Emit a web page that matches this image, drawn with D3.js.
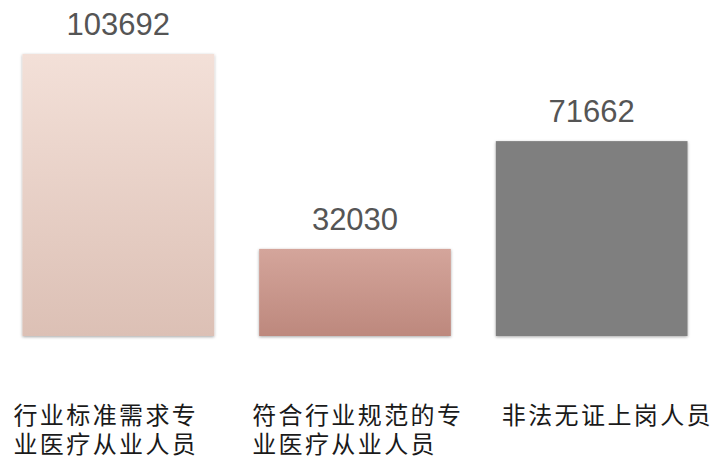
<!DOCTYPE html>
<html><head><meta charset="utf-8">
<script src="https://cdn.jsdelivr.net/npm/d3@7"></script>
<style>html,body{margin:0;padding:0;background:#fff;}svg{display:block;}</style>
</head><body>
<svg id="chart" width="718" height="456"></svg>
<script>
const categories = ["行业标准需求专业医疗从业人员", "符合行业规范的专业医疗从业人员", "非法无证上岗人员"];
const labelLines = [["行业标准需求专", "业医疗从业人员"], ["符合行业规范的专", "业医疗从业人员"], ["非法无证上岗人员"]];
const values = [103692, 32030, 71662];

const svg = d3.select("#chart");
const baseY = 336, topY = 54;

const x = d3.scaleBand().domain(categories).range([0, 710]).paddingInner(0.19).paddingOuter(0.095);
const y = d3.scaleLinear().domain([0, values[0]]).range([baseY, topY]);

const defs = svg.append("defs");
const grads = [["#f3e0d8", "#dcc0b5"], ["#d4a59b", "#bd887d"], ["#7f7f7f", "#7f7f7f"]];
grads.forEach((g, i) => {
  const lg = defs.append("linearGradient").attr("id", "g" + i).attr("x1", 0).attr("y1", 0).attr("x2", 0).attr("y2", 1);
  lg.append("stop").attr("offset", "0%").attr("stop-color", g[0]);
  lg.append("stop").attr("offset", "100%").attr("stop-color", g[1]);
});
const f = defs.append("filter").attr("id", "sh").attr("x", "-10%").attr("y", "-10%").attr("width", "120%").attr("height", "120%");
f.append("feDropShadow").attr("dx", 0).attr("dy", 1).attr("stdDeviation", 1.5).attr("flood-color", "#000").attr("flood-opacity", 0.35);

svg.selectAll("rect.bar").data(values).enter().append("rect")
  .attr("class", "bar")
  .attr("x", (d, i) => x(categories[i]))
  .attr("y", d => y(d))
  .attr("width", x.bandwidth())
  .attr("height", d => baseY - y(d))
  .attr("fill", (d, i) => `url(#g${i})`)
  .attr("filter", "url(#sh)");

svg.selectAll("text.val").data(values).enter().append("text")
  .attr("class", "val")
  .attr("x", (d, i) => x(categories[i]) + x.bandwidth() / 2)
  .attr("y", d => y(d) - 19)
  .attr("text-anchor", "middle")
  .attr("font-family", "Liberation Sans, Arial, sans-serif")
  .attr("font-size", 31)
  .attr("fill", "#555")
  .text(d => d);

const labelOffset = [-9, -7, 6];
categories.forEach((c, i) => {
  const t = svg.append("text")
    .attr("font-family", "Noto Sans CJK SC, sans-serif")
    .attr("font-size", 24)
    .attr("letter-spacing", 2.4)
    .attr("fill", "#1a1a1a");
  labelLines[i].forEach((line, j) => {
    t.append("tspan").attr("x", x(c) + labelOffset[i]).attr("y", 424 + j * 29).text(line);
  });
});
</script>
</body></html>
